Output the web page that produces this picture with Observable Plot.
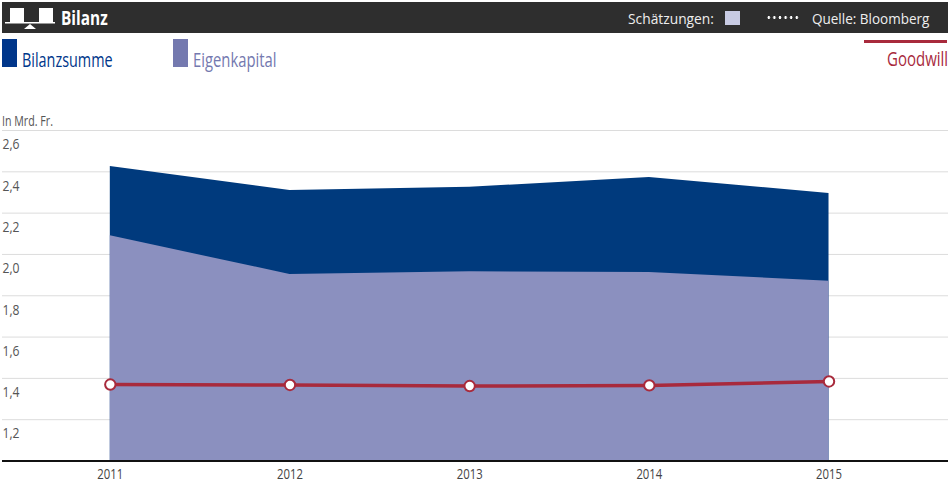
<!DOCTYPE html>
<html><head><meta charset="utf-8">
<script src="https://cdn.jsdelivr.net/npm/d3@7"></script>
<script src="https://cdn.jsdelivr.net/npm/@observablehq/plot@0.6"></script>
<style>
html,body{margin:0;padding:0;background:#fff;}
body{width:950px;height:490px;position:relative;overflow:hidden;font-family:"Open Sans",sans-serif;}
.abs{position:absolute;white-space:nowrap;transform-origin:left center;}
#chart{position:absolute;left:0;top:100px;}
</style></head><body>
<div class="abs" style="left:2px;top:2px;width:946px;height:31px;background:#2e2e2e"></div>
<svg class="abs" style="left:5px;top:7px" width="50" height="22">
<rect x="5" y="1" width="14" height="14" fill="#fff"/><rect x="34" y="1" width="14" height="14" fill="#fff"/>
<rect x="0" y="15" width="50" height="1.5" fill="#fff"/><path d="M25 17 L31 22 L19 22 Z" fill="#fff"/></svg>
<div class="abs" style="left:61px;top:6px;color:#fff;font-size:20px;font-weight:bold;line-height:24px;transform:scaleX(.77)">Bilanz</div>
<div class="abs" style="left:628px;top:8px;color:#eee;font-size:15px;line-height:20px;transform:scaleX(.92)">Schätzungen:</div>
<div class="abs" style="left:725px;top:11px;width:15px;height:14px;background:#c8cbe3"></div>
<div class="abs" style="left:766px;top:16px;width:33px;height:3px;background:radial-gradient(circle,#fff 1.2px,transparent 1.5px) 0 0/5.6px 3px repeat-x"></div>
<div class="abs" style="left:812px;top:8px;color:#eee;font-size:15px;line-height:20px;transform:scaleX(.9)">Quelle: Bloomberg</div>
<div class="abs" style="left:2px;top:39px;width:15px;height:28px;background:#00368a"></div>
<div class="abs" style="left:22px;top:47px;color:#00368a;font-size:20px;font-weight:500;line-height:26px;transform:scaleX(.72)">Bilanzsumme</div>
<div class="abs" style="left:173px;top:39px;width:15px;height:28px;background:#7479af"></div>
<div class="abs" style="left:193px;top:47px;color:#7479af;font-size:20px;font-weight:500;line-height:26px;transform:scaleX(.74)">Eigenkapital</div>
<div class="abs" style="left:864px;top:40px;width:83px;height:3px;background:#a82a3c"></div>
<div class="abs" style="left:887px;top:46px;color:#a82a3c;font-size:20px;font-weight:500;line-height:26px;transform:scaleX(.75)">Goodwill</div>
<div class="abs" style="left:2px;top:111px;color:#555;font-size:15px;line-height:18px;transform:scaleX(.71)">In Mrd. Fr.</div>
<div id="chart"></div>
<script>
const years = [2011, 2012, 2013, 2014, 2015];
const bilanzsumme = [2.426, 2.31, 2.325, 2.372, 2.295];
const eigenkapital = [2.09, 1.903, 1.916, 1.913, 1.87];
const goodwill = [1.37, 1.368, 1.363, 1.366, 1.385];
const gridTicks = [1.2, 1.4, 1.6, 1.8, 2.0, 2.2, 2.4, 2.6];
const rows = years.map((year, i) => ({year, b: bilanzsumme[i], e: eigenkapital[i], g: goodwill[i]}));
const fmt = d => d.toFixed(1).replace(".", ",");
const plot = Plot.plot({
  width: 950, height: 390,
  marginLeft: 2, marginRight: 2, marginTop: 30, marginBottom: 29.5,
  style: {fontFamily: '"Open Sans",sans-serif', background: "transparent", overflow: "visible"},
  x: {domain: [2010.4, 2015.665], label: null, axis: null},
  y: {domain: [1, 2.6], label: null, axis: null},
  marks: [
    Plot.ruleY(gridTicks, {stroke: "#dcdcdc", strokeWidth: 1}),
    Plot.text(gridTicks, {y: d => d, text: fmt, frameAnchor: "left", textAnchor: "start", dy: 14, fill: "#555", fontSize: 15}),
    Plot.areaY(rows, {x: "year", y1: 1, y2: "b", fill: "#003a7d"}),
    Plot.areaY(rows, {x: "year", y1: 1, y2: "e", fill: "#8b90bf"}),
    Plot.ruleY([1], {stroke: "#111", strokeWidth: 2}),
    Plot.text(years, {x: d => d, text: d => String(d), frameAnchor: "bottom", dy: 18, fill: "#444", fontSize: 14}),
    Plot.line(rows, {x: "year", y: "g", stroke: "#a82a3c", strokeWidth: 3.5}),
    Plot.dot(rows, {x: "year", y: "g", r: 5.2, fill: "#fff", stroke: "#a82a3c", strokeWidth: 2})
  ]
});
// Narrow the reference's condensed lettering: no condensed face is installed.
plot.querySelectorAll("text").forEach(t => {
  const tr = t.getAttribute("transform") || "";
  t.setAttribute("transform", tr + " scale(.81,1)");
});
document.getElementById("chart").appendChild(plot);
</script>
</body></html>
